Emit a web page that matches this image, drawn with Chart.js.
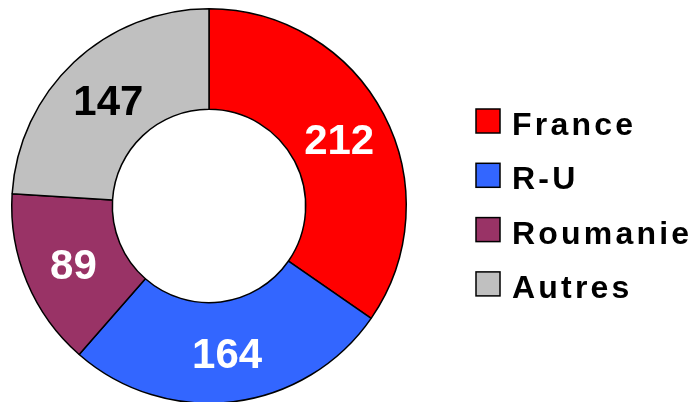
<!DOCTYPE html>
<html lang="fr">
<head>
  <meta charset="UTF-8" />
  <title>Donut</title>
  <script src="https://cdn.jsdelivr.net/npm/chart.js"></script>
  <style>
    html, body { margin: 0; padding: 0; background: #fff; overflow: hidden; }
    #wrap { position: relative; width: 695px; height: 404px; }
  </style>
</head>
<body>
  <div id="wrap"><canvas id="donut" width="695" height="404"></canvas></div>

  <script>
    const labels = ["France", "R-U", "Roumanie", "Autres"];
    const values = [212, 164, 89, 147];
    const colors = ["#ff0000", "#3366ff", "#993366", "#c0c0c0"];
    const labelColors = ["#ffffff", "#ffffff", "#ffffff", "#000000"];

    const FONT = "'Liberation Sans', Arial, sans-serif";

    // value labels in the middle of each slice
    const valueLabels = {
      id: "valueLabels",
      afterDatasetsDraw(chart) {
        const ctx = chart.ctx;
        const meta = chart.getDatasetMeta(0);
        ctx.save();
        ctx.font = "bold 42px " + FONT;
        ctx.textAlign = "center";
        ctx.textBaseline = "alphabetic";
        meta.data.forEach((arc, i) => {
          const p = arc.tooltipPosition();
          ctx.fillStyle = labelColors[i];
          ctx.fillText(String(values[i]), p.x, p.y + 16);
        });
        ctx.restore();
      }
    };

    // legend on the right
    const sideLegend = {
      id: "sideLegend",
      afterDraw(chart) {
        const ctx = chart.ctx;
        ctx.save();
        ctx.font = "bold 32px " + FONT;
        if ("letterSpacing" in ctx) ctx.letterSpacing = "3.2px";
        ctx.textBaseline = "alphabetic";
        labels.forEach((name, i) => {
          const top = 109 + i * 54.3;
          ctx.fillStyle = colors[i];
          ctx.fillRect(476, top, 24, 24);
          ctx.strokeStyle = "#000";
          ctx.lineWidth = 1.5;
          ctx.strokeRect(476, top, 24, 24);
          ctx.fillStyle = "#000";
          ctx.fillText(name, 512, top + 26);
        });
        ctx.restore();
      }
    };

    new Chart(document.getElementById("donut"), {
      type: "doughnut",
      data: {
        labels: labels,
        datasets: [{
          data: values,
          backgroundColor: colors,
          borderColor: "#000000",
          borderWidth: 1.5
        }]
      },
      options: {
        responsive: false,
        animation: false,
        cutout: "49%",
        layout: { padding: { left: 11, top: 8, right: 288, bottom: 0 } },
        plugins: {
          legend: { display: false },
          tooltip: { enabled: false }
        }
      },
      plugins: [valueLabels, sideLegend]
    });
  </script>
</body>
</html>
